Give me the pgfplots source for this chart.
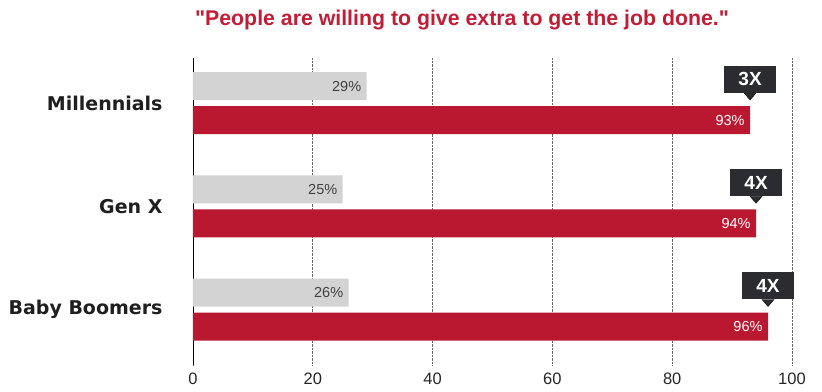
\documentclass[border=0pt]{standalone}
\usepackage{pgfplots}
\pgfplotsset{compat=1.18}
\usepackage{fontspec}
\setmainfont{Liberation Sans}
\newfontfamily\catfont{DejaVu Sans}
\newfontfamily\titlefont{Liberation Sans}
\definecolor{barred}{HTML}{BA1830}
\definecolor{bargray}{HTML}{D3D3D3}
\definecolor{boxdark}{HTML}{2B2C30}
\definecolor{titlered}{HTML}{C21D36}
\begin{document}
\begin{tikzpicture}
\begin{axis}[
  name=ax,
  scale only axis, width=599pt, height=307pt,
  xmin=0, xmax=100, ymin=-0.5375, ymax=2.436,
  axis y line*=left, axis x line*=bottom,
  x axis line style={draw=none},
  y axis line style={black, line width=0.8pt, -},
  xtick={0,20,40,60,80,100},
  ytick={0,1,2}, yticklabels={Baby Boomers, Gen X, Millennials},
  major tick length=0pt,
  xmajorgrids, grid style={densely dotted, black!60, line width=0.6pt},
  xticklabel style={font=\fontsize{16.5}{16.5}\selectfont, text=black!85, yshift=-4pt},
  yticklabel style={font=\fontsize{19}{19}\selectfont\catfont\bfseries, text=black!88, xshift=-27pt},
  /pgf/number format/assume math mode=true,
  clip=false,
]
\addplot[xbar, bar width=28pt, bar shift=17pt, fill=bargray, draw=none,
  nodes near coords={\pgfmathprintnumber{\pgfplotspointmeta}\%},
  nodes near coords align={left},
  every node near coord/.append style={font=\fontsize{14.5}{14.5}\selectfont, text=black!75, xshift=-2pt, yshift=17pt}]
  coordinates {(29,2) (25,1) (26,0)};
\addplot[xbar, bar width=28pt, bar shift=-17pt, fill=barred, draw=none,
  nodes near coords={\pgfmathprintnumber{\pgfplotspointmeta}\%},
  nodes near coords align={left},
  every node near coord/.append style={font=\fontsize{14.5}{14.5}\selectfont, text=white, xshift=-2pt, yshift=-17pt}]
  coordinates {(93,2) (94,1) (96,0)};
% callout pointers
\addplot[only marks, mark=triangle*, mark size=6.93pt,
  mark options={yshift=7.67pt, rotate=180, yscale=0.67, fill=boxdark, draw=none}]
  coordinates {(93,2) (94,1) (96,0)};
% callout boxes
\addplot[draw=none, mark=none, point meta=explicit symbolic, nodes near coords,
  every node near coord/.append style={fill=boxdark, text=white,
    font=\fontsize{19}{19}\selectfont\bfseries,
    minimum width=52pt, minimum height=27pt, inner sep=0pt,
    anchor=south, yshift=10pt}]
  coordinates {(93,2) [3X] (94,1) [4X] (96,0) [4X]};
\end{axis}
\node[font=\fontsize{21.3}{21.3}\selectfont\titlefont\bfseries, text=titlered] at ([xshift=269pt, yshift=38pt]ax.north west) {"People are willing to give extra to get the job done."};
\pgfresetboundingbox
\path ([xshift=-193pt,yshift=-26pt]ax.south west) rectangle ([xshift=30pt,yshift=58pt]ax.north east);
\end{tikzpicture}
\end{document}
